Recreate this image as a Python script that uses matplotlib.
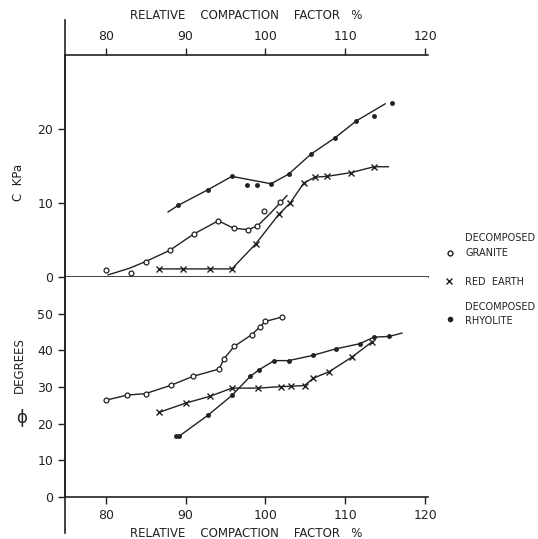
import matplotlib.pyplot as plt
from matplotlib.lines import Line2D

# upper panel: cohesion C (kPa)
gran_c_x = [80.0, 83.2, 85.0, 88.0, 91.0, 94.1, 96.0, 97.8, 99.0, 99.8, 101.8]
gran_c_y = [0.9, 0.6, 2.1, 3.6, 5.8, 7.6, 6.6, 6.4, 6.9, 8.9, 10.2]
gran_c_fit_x = [80.3, 83.0, 85.0, 88.0, 91.0, 94.1, 96.0, 97.8, 99.0, 100.6, 102.7]
gran_c_fit_y = [0.3, 1.2, 2.1, 3.6, 5.8, 7.6, 6.6, 6.4, 6.9, 8.6, 11.0]

red_c_x = [86.7, 89.7, 93.1, 95.8, 98.8, 101.7, 103.1, 104.8, 106.2, 107.7, 110.7, 113.6]
red_c_y = [1.1, 1.1, 1.1, 1.1, 4.5, 8.5, 10.0, 12.7, 13.5, 13.6, 14.1, 14.9]
red_c_fit_x = [86.7, 95.8, 98.8, 101.7, 103.1, 104.8, 106.2, 107.7, 110.7, 113.6, 115.4]
red_c_fit_y = [1.1, 1.1, 4.5, 8.5, 10.0, 12.7, 13.5, 13.6, 14.1, 14.9, 14.9]

rhy_c_x = [89.1, 92.8, 95.8, 97.7, 98.9, 100.7, 102.9, 105.7, 108.7, 111.4, 113.6, 115.8]
rhy_c_y = [9.7, 11.8, 13.6, 12.5, 12.4, 12.6, 13.9, 16.6, 18.8, 21.1, 21.8, 23.5]
rhy_c_fit_x = [87.8, 89.1, 92.8, 95.8, 100.7, 102.9, 105.7, 108.7, 111.4, 115.0]
rhy_c_fit_y = [8.8, 9.7, 11.8, 13.6, 12.6, 13.9, 16.6, 18.8, 21.1, 23.4]

# lower panel: friction angle phi (degrees)
gran_p_x = [80.0, 82.7, 85.0, 88.2, 90.9, 94.2, 94.8, 96.1, 98.3, 99.3, 100.0, 102.1]
gran_p_y = [26.4, 27.8, 28.2, 30.5, 32.9, 34.9, 37.7, 41.1, 44.3, 46.4, 47.9, 49.1]

red_p_x = [86.7, 90.0, 93.1, 95.8, 99.1, 101.9, 103.2, 104.9, 106.0, 108.0, 110.8, 113.4]
red_p_y = [23.1, 25.6, 27.5, 29.7, 29.7, 30.1, 30.2, 30.4, 32.4, 34.2, 38.1, 42.4]

rhy_p_x = [88.8, 89.2, 92.8, 95.8, 98.1, 99.2, 101.1, 102.9, 105.9, 108.8, 111.8, 113.6, 115.5]
rhy_p_y = [16.7, 16.6, 22.3, 27.7, 32.9, 34.7, 37.2, 37.2, 38.6, 40.4, 41.8, 43.6, 43.8]
rhy_p_fit_x = rhy_p_x[1:] + [117.1]
rhy_p_fit_y = rhy_p_y[1:] + [44.7]

x_ticks = [80, 90, 100, 110, 120]
xlabel = 'RELATIVE    COMPACTION    FACTOR   %'

ink = '#222222'
plt.rcParams['font.family'] = 'DejaVu Sans'

fig = plt.figure(figsize=(5.38, 5.39), dpi=100)
ax1 = fig.add_axes([0.121, 0.486, 0.675, 0.412])
ax2 = fig.add_axes([0.121, 0.078, 0.675, 0.408])

for ax in (ax1, ax2):
    ax.set_xlim(74.9, 120.4)
    ax.spines['right'].set_visible(False)
    for s in ax.spines.values():
        s.set_color(ink)
        s.set_linewidth(1.2)
    ax.tick_params(colors=ink, labelsize=9, width=1, length=5, direction='out')

# upper
ax1.set_ylim(0, 30)
ax1.set_yticks([0, 10, 20])
ax1.xaxis.tick_top()
ax1.set_xticks(x_ticks)
ax1.xaxis.set_label_position('top')
ax1.set_xlabel(xlabel, fontsize=8.5, color=ink, labelpad=8)
ax1.tick_params(axis='x', bottom=False)

lw = 1.0
ax1.plot(gran_c_fit_x, gran_c_fit_y, '-', color=ink, lw=lw)
ax1.plot(gran_c_x, gran_c_y, 'o', ms=3.5, mfc='white', mec=ink, mew=0.9)
ax1.plot(red_c_fit_x, red_c_fit_y, '-', color=ink, lw=lw)
ax1.plot(red_c_x, red_c_y, 'x', ms=4.5, color=ink, mew=1.0)
ax1.plot(rhy_c_fit_x, rhy_c_fit_y, '-', color=ink, lw=lw)
ax1.plot(rhy_c_x, rhy_c_y, 'o', ms=2.5, color=ink)

# lower
ax2.set_ylim(0, 60)
ax2.set_yticks([0, 10, 20, 30, 40, 50])
ax2.spines['top'].set_visible(False)
ax2.set_xticks(x_ticks)
ax2.set_xlabel(xlabel, fontsize=8.5, color=ink, labelpad=4)

ax2.plot(gran_p_x, gran_p_y, '-', color=ink, lw=lw)
ax2.plot(gran_p_x, gran_p_y, 'o', ms=3.5, mfc='white', mec=ink, mew=0.9)
ax2.plot(red_p_x, red_p_y, '-', color=ink, lw=lw)
ax2.plot(red_p_x, red_p_y, 'x', ms=4.5, color=ink, mew=1.0)
ax2.plot(rhy_p_fit_x, rhy_p_fit_y, '-', color=ink, lw=lw)
ax2.plot(rhy_p_x, rhy_p_y, 'o', ms=2.5, color=ink)

# left spine runs past both horizontal axes
fig.add_artist(Line2D([65 / 538, 65 / 538], [1 - 20 / 539, 1 - 533 / 539],
                      color=ink, lw=1.2))

fig.text(19 / 538, 1 - 182 / 539, 'C  KPa', rotation=90, ha='center', va='center',
         fontsize=8.5, color=ink)
fig.text(19 / 538, 1 - 365 / 539, 'DEGREES', rotation=90, ha='center', va='center',
         fontsize=8.5, color=ink)
fig.text(22 / 538, 1 - 418 / 539, 'ϕ', ha='center', va='center',
         fontsize=12, color=ink)

# legend
fig.text(465 / 538, 1 - 238 / 539, 'DECOMPOSED', fontsize=7, color=ink, va='center')
fig.text(465 / 538, 1 - 253 / 539, 'GRANITE', fontsize=7, color=ink, va='center')
fig.text(465 / 538, 1 - 282 / 539, 'RED  EARTH', fontsize=7, color=ink, va='center')
fig.text(465 / 538, 1 - 307 / 539, 'DECOMPOSED', fontsize=7, color=ink, va='center')
fig.text(465 / 538, 1 - 321 / 539, 'RHYOLITE', fontsize=7, color=ink, va='center')
fig.add_artist(Line2D([450 / 538], [1 - 253 / 539], marker='o', ms=3.5, mfc='white',
                      mec=ink, mew=1.0))
fig.add_artist(Line2D([449 / 538], [1 - 281 / 539], marker='x', ms=4, color=ink,
                      mew=1.0))
fig.add_artist(Line2D([450 / 538], [1 - 319 / 539], marker='o', ms=3, color=ink))

fig.savefig('out.png', dpi=100)
